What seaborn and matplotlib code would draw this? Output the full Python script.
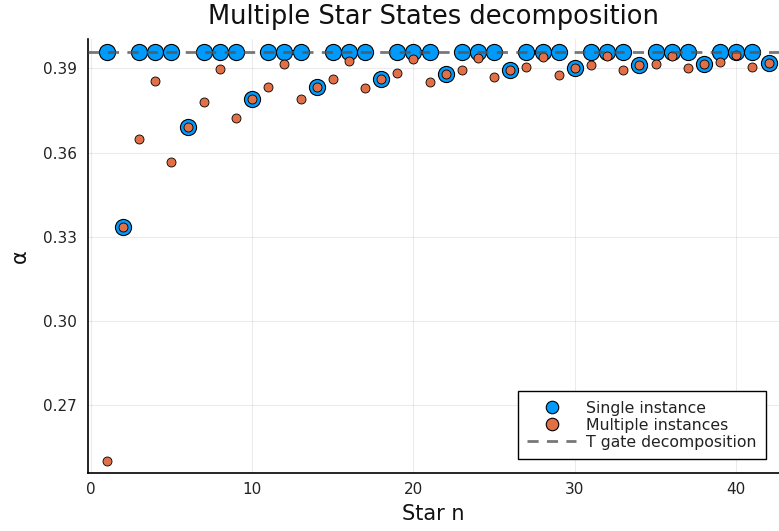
import numpy as np
import pandas as pd
import seaborn as sns
import matplotlib.pyplot as plt
from matplotlib.lines import Line2D

# Data
star_n = list(range(1, 43))
single_instance = [0.396, 0.3333, 0.396, 0.396, 0.396, 0.3691, 0.396, 0.396, 0.396, 0.379,
                   0.396, 0.396, 0.396, 0.3835, 0.396, 0.396, 0.396, 0.3863, 0.396, 0.396,
                   0.396, 0.3881, 0.396, 0.396, 0.396, 0.3894, 0.396, 0.396, 0.396, 0.3902,
                   0.396, 0.396, 0.396, 0.3911, 0.396, 0.396, 0.396, 0.3916, 0.396, 0.396,
                   0.396, 0.3919]
multiple_instances = [0.25, 0.3333, 0.3647, 0.3856, 0.3565, 0.3691, 0.3782, 0.3897, 0.3725, 0.379,
                      0.3833, 0.3916, 0.3792, 0.3835, 0.3864, 0.3925, 0.383, 0.3863, 0.3883, 0.3932,
                      0.3853, 0.3881, 0.3895, 0.3937, 0.3869, 0.3894, 0.3905, 0.3941, 0.3878, 0.3902,
                      0.3911, 0.3944, 0.3894, 0.3911, 0.3917, 0.3944, 0.39, 0.3916, 0.3922, 0.3947,
                      0.3905, 0.3919]
t_gate = 0.396
y_ticks = [0.27, 0.30, 0.33, 0.36, 0.39]
x_ticks = [0, 10, 20, 30, 40]

df = pd.DataFrame({"n": star_n, "single": single_instance, "multiple": multiple_instances})

sns.set_style("white")
blue = "#009AFA"
orange = "#E36F47"

fig = plt.figure(figsize=(7.79, 5.31), dpi=100)
ax = fig.add_axes([0.1134, 0.1087, 0.8866, 0.8173])

sns.scatterplot(data=df, x="n", y="single", ax=ax, color=blue, s=135,
                edgecolor="black", linewidth=0.8, zorder=3)
sns.scatterplot(data=df, x="n", y="multiple", ax=ax, color=orange, s=42,
                edgecolor="black", linewidth=0.6, zorder=4)
ax.axhline(t_gate, color="#555555", linestyle=(0, (4, 3)), linewidth=2, alpha=0.8, zorder=5)

ax.set_xlim(-0.15, 42.65)
ax.set_ylim(0.2456, 0.4004)
ax.set_xticks(x_ticks)
ax.set_yticks(y_ticks)
ax.set_yticklabels([f"{v:.2f}" for v in y_ticks])
ax.grid(True, color="#000000", alpha=0.08, linewidth=0.8)
ax.tick_params(direction="in", length=4, labelsize=11, colors="#222222")
ax.tick_params(axis="y", pad=8.5)
ax.tick_params(axis="x", pad=6)
for side in ["top", "right"]:
    ax.spines[side].set_visible(False)
for side in ["left", "bottom"]:
    ax.spines[side].set_color("black")
    ax.spines[side].set_linewidth(1.2)

ax.set_title("Multiple Star States decomposition", fontsize=18.5, pad=11, color="#111111")
ax.set_xlabel("Star n", fontsize=15, labelpad=5, color="#111111")
ax.set_ylabel("α", fontsize=15, labelpad=9, color="#111111")

handles = [
    Line2D([], [], marker="o", linestyle="", markerfacecolor=blue, markeredgecolor="black",
           markersize=9, markeredgewidth=0.8),
    Line2D([], [], marker="o", linestyle="", markerfacecolor=orange, markeredgecolor="black",
           markersize=9, markeredgewidth=0.8),
    Line2D([], [], color="#555555", linestyle=(0, (4, 3)), linewidth=2, alpha=0.8),
]
leg = ax.legend(handles, ["Single instance", "Multiple instances", "T gate decomposition"],
                loc="lower right", bbox_to_anchor=(0.981, 0.033), borderaxespad=0,
                fontsize=11.3, fancybox=False, framealpha=1, handlelength=3.1,
                handletextpad=0.64, labelspacing=0.12, borderpad=0.6)
leg.get_frame().set_edgecolor("black")
leg.get_frame().set_linewidth(1.0)
for t in leg.get_texts():
    t.set_color("#222222")

fig.savefig("out.png", dpi=100)
